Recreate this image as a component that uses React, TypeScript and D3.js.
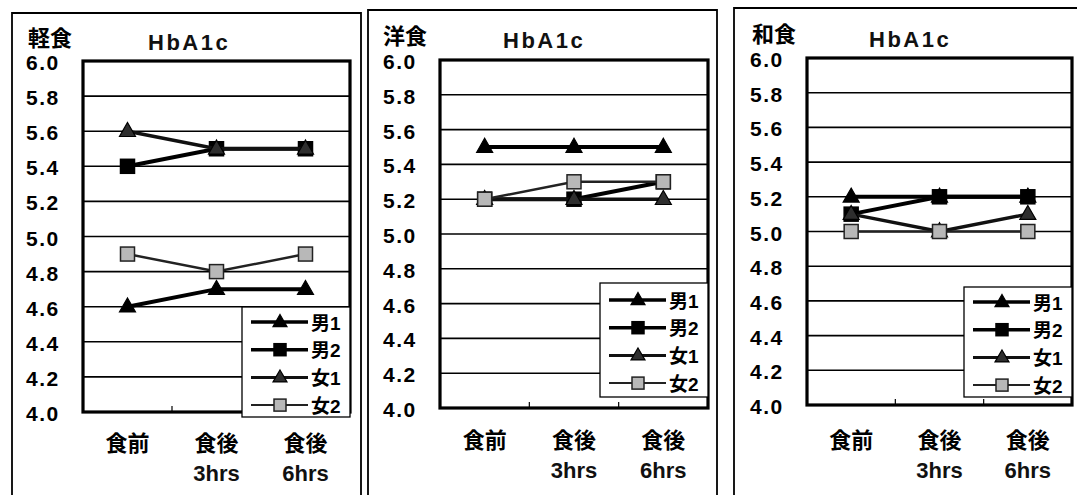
import * as d3 from 'd3';

// categories on the x axis (each entry is one or two lines)
const categoryLines: string[][] = [['食前'], ['食後', '3hrs'], ['食後', '6hrs']];
const seriesNames = ['男1', '男2', '女1', '女2'];
const yTicks = [4.0, 4.2, 4.4, 4.6, 4.8, 5.0, 5.2, 5.4, 5.6, 5.8, 6.0];
const panelTitles = ['軽食', '洋食', '和食'];
const chartTitle = 'HbA1c';

// values per panel, one row per series (男1, 男2, 女1, 女2)
const keishoku = [
  [4.6, 4.7, 4.7],
  [5.4, 5.5, 5.5],
  [5.6, 5.5, 5.5],
  [4.9, 4.8, 4.9],
];
const youshoku = [
  [5.5, 5.5, 5.5],
  [5.2, 5.2, 5.3],
  [5.2, 5.2, 5.2],
  [5.2, 5.3, 5.3],
];
const washoku = [
  [5.2, 5.2, 5.2],
  [5.1, 5.2, 5.2],
  [5.1, 5.0, 5.1],
  [5.0, 5.0, 5.0],
];
const panelData = [keishoku, youshoku, washoku];

// layout of each of the three scanned panels
const layouts = [
  { ox: 12, oy: 13, ow: 349, l: 83, t: 61, r: 350, b: 412, tx: 28, ty: 46, hx: 148, hy: 50, yl: 26, lg: { x: 242, y: 307, h: 110, dy: 15 }, xl1: 443, xl2: 481 },
  { ox: 368, oy: 10, ow: 349, l: 440, t: 60, r: 708, b: 408, tx: 383, ty: 44, hx: 503, hy: 48, yl: 383, lg: { x: 600, y: 283, h: 114, dy: 17 }, xl1: 440, xl2: 478 },
  { ox: 734, oy: 8, ow: 350, l: 807, t: 58, r: 1072, b: 405, tx: 752, ty: 42, hx: 869, hy: 47, yl: 750, lg: { x: 964, y: 287, h: 110, dy: 15 }, xl1: 440, xl2: 478 },
];

const styles = [
  { line: '#000', width: 4, marker: 'tri', fill: '#000', stroke: '#000' },
  { line: '#000', width: 4, marker: 'sq', fill: '#000', stroke: '#000' },
  { line: '#111', width: 3.5, marker: 'tri', fill: '#2e2e2e', stroke: '#000' },
  { line: '#222', width: 2.5, marker: 'sq', fill: '#b8b8b8', stroke: '#222' },
];

const FONT = '"Liberation Sans", Arial, "Noto Sans CJK JP", sans-serif';

function Marker({ kind, x, y, fill, stroke, size }: { kind: string; x: number; y: number; fill: string; stroke: string; size: number }) {
  if (kind === 'tri') {
    const s = size + 2;
    const h = size;
    return (
      <path
        d={`M${x},${y - h * 0.62} L${x + s / 2},${y + h * 0.38} L${x - s / 2},${y + h * 0.38} Z`}
        fill={fill}
        stroke={stroke}
        strokeWidth={1.2}
      />
    );
  }
  const s = size;
  return <rect x={x - s / 2} y={y - s / 2} width={s} height={s} fill={fill} stroke={stroke} strokeWidth={1.5} />;
}

function Panel({ idx }: { idx: number }) {
  const L = layouts[idx];
  const data = panelData[idx];
  const x = d3.scaleBand<number>().domain([0, 1, 2]).range([L.l, L.r]);
  const y = d3.scaleLinear().domain([4, 6]).range([L.b, L.t]);
  const cx = (i: number) => (x(i) || 0) + x.bandwidth() / 2;
  const line = d3
    .line<number>()
    .x((_, i) => cx(i))
    .y((d) => y(d));
  const lg = L.lg;
  const lgW = L.r - lg.x;
  const lgStep = 27.7;

  return (
    <g>
      {/* outer frame */}
      <path d={`M${L.ox},500 V${L.oy} H${L.ox + L.ow} V500`} fill="none" stroke="#000" strokeWidth={1.8} />
      <text x={L.tx} y={L.ty} fontSize={22} fontWeight="bold" fontFamily={FONT}>
        {panelTitles[idx]}
      </text>
      <text x={L.hx} y={L.hy} fontSize={22} fontWeight="bold" letterSpacing={2.5} fontFamily={FONT} fill="#111">
        {chartTitle}
      </text>
      {/* gridlines */}
      {yTicks.map((t) => (
        <line key={t} x1={L.l} x2={L.r} y1={y(t)} y2={y(t)} stroke="#000" strokeWidth={1.6} />
      ))}
      {yTicks.map((t) => (
        <text key={'l' + t} x={L.yl} y={y(t) + 9} fontSize={21} fontWeight="bold" letterSpacing={1.5} fontFamily={FONT}>
          {t.toFixed(1)}
        </text>
      ))}
      {/* category ticks */}
      {[1, 2].map((i) => (
        <line key={'tk' + i} x1={x(i)} x2={x(i)} y1={L.b} y2={L.b - 6} stroke="#000" strokeWidth={1.2} />
      ))}
      {/* series */}
      {data.map((vals, si) => (
        <g key={si}>
          <path d={line(vals) || ''} fill="none" stroke={styles[si].line} strokeWidth={styles[si].width} />
          {vals.map((v, i) => (
            <Marker key={i} kind={styles[si].marker} size={14} x={cx(i)} y={y(v)} fill={styles[si].fill} stroke={styles[si].stroke} />
          ))}
        </g>
      ))}
      {/* plot frame */}
      <rect x={L.l} y={L.t} width={L.r - L.l} height={L.b - L.t} fill="none" stroke="#000" strokeWidth={3.2} />
      {/* legend */}
      <rect x={lg.x} y={lg.y} width={lgW} height={lg.h} fill="#fff" stroke="#000" strokeWidth={1.3} />
      {seriesNames.map((name, si) => {
        const ly = lg.y + lg.dy + si * lgStep;
        return (
          <g key={name}>
            <line x1={lg.x + 9} x2={lg.x + 66} y1={ly} y2={ly} stroke={styles[si].line} strokeWidth={styles[si].width - 0.5} />
            <Marker kind={styles[si].marker} size={12} x={lg.x + 38} y={ly} fill={styles[si].fill} stroke={styles[si].stroke} />
            <text x={lg.x + 69} y={ly + 1} dominantBaseline="central" fontSize={19} fontWeight="bold" fontFamily={FONT}>
              {name}
            </text>
          </g>
        );
      })}
      {/* category labels */}
      {categoryLines.map((lines, i) => (
        <g key={'c' + i}>
          <text x={cx(i)} y={L.xl1} textAnchor="middle" dominantBaseline="central" fontSize={22} fontWeight="bold" fontFamily={FONT}>
            {lines[0]}
          </text>
          {lines[1] && (
            <text x={cx(i)} y={L.xl2} textAnchor="middle" fontSize={22} fontWeight="bold" fontFamily={FONT} fill="#111">
              {lines[1]}
            </text>
          )}
        </g>
      ))}
    </g>
  );
}

export default function App() {
  return (
    <svg
      width={1077}
      height={495}
      style={{ position: 'absolute', left: 0, top: 0, background: '#fff' }}
    >
      <rect width={1077} height={495} fill="#fff" />
      {[0, 1, 2].map((i) => (
        <Panel key={i} idx={i} />
      ))}
    </svg>
  );
}
